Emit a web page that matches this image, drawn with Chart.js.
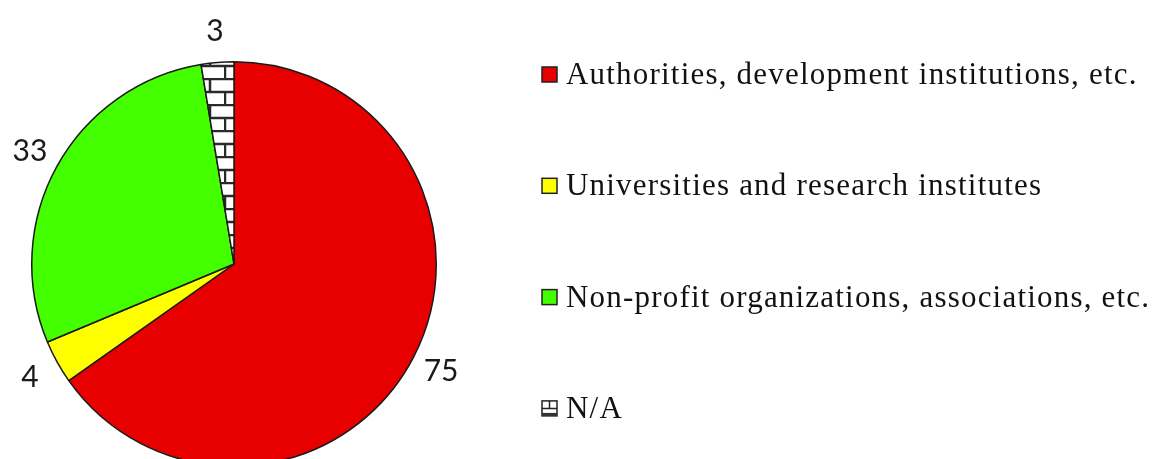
<!DOCTYPE html>
<html>
<head>
<meta charset="utf-8">
<script src="https://cdn.jsdelivr.net/npm/chart.js@4/dist/chart.umd.min.js"></script>
<style>
  html, body { margin: 0; padding: 0; background: #fff; overflow: hidden; }
  #wrap { position: relative; width: 1155px; height: 530px; }
</style>
</head>
<body>
<div id="wrap"><canvas id="pieChart"></canvas></div>
<script>
// chart data
const categories = [
  "Authorities, development institutions, etc.",
  "Universities and research institutes",
  "Non-profit organizations, associations, etc.",
  "N/A"
];
const counts = [75, 4, 33, 3];
const sliceColors = ["#E80000", "#FFFF00", "#44FF00", "brick"];

// brick pattern for the N/A slice
function makeBrickPattern(ctx) {
  const tile = document.createElement("canvas");
  tile.width = 28;
  tile.height = 26;
  const t = tile.getContext("2d");
  t.fillStyle = "#fff";
  t.fillRect(0, 0, 28, 26);
  t.strokeStyle = "#2a2a2a";
  t.lineWidth = 2.5;
  t.beginPath();
  t.moveTo(0, 1); t.lineTo(28, 1);
  t.moveTo(0, 14); t.lineTo(28, 14);
  t.moveTo(14, 1); t.lineTo(14, 14);
  t.moveTo(1, 14); t.lineTo(1, 26);
  t.stroke();
  return ctx.createPattern(tile, "repeat");
}

const canvas = document.getElementById("pieChart");
const ctx = canvas.getContext("2d");
const brick = makeBrickPattern(ctx);
const fills = sliceColors.map(c => c === "brick" ? brick : c);

// value labels outside each slice
const outsideLabels = {
  id: "outsideLabels",
  afterDatasetsDraw(chart) {
    const c = chart.ctx;
    const meta = chart.getDatasetMeta(0);
    c.save();
    c.font = "30px Lato";
    c.fillStyle = "#1a1a1a";
    c.textAlign = "center";
    c.textBaseline = "middle";
    meta.data.forEach((arc, i) => {
      const p = arc.getProps(["x", "y", "startAngle", "endAngle", "outerRadius"], true);
      const mid = (p.startAngle + p.endAngle) / 2;
      const r = p.outerRadius + 31;
      c.fillText(String(counts[i]), p.x + Math.cos(mid) * r, p.y + Math.sin(mid) * r);
    });
    c.restore();
  }
};

// legend on the right
const sideLegend = {
  id: "sideLegend",
  afterDraw(chart) {
    const c = chart.ctx;
    c.save();
    c.font = "31px 'Liberation Serif'";
    c.letterSpacing = "1.2px";
    c.textBaseline = "alphabetic";
    categories.forEach((name, i) => {
      const base = 84 + i * 111.3;
      const bx = 542, by = base - 17, bs = 15;
      c.fillStyle = sliceColors[i] === "brick" ? "#fff" : sliceColors[i];
      c.fillRect(bx, by, bs, bs);
      c.strokeStyle = "#222";
      c.lineWidth = 1.5;
      c.strokeRect(bx, by, bs, bs);
      if (sliceColors[i] === "brick") {
        c.beginPath();
        c.moveTo(bx, by + bs / 2); c.lineTo(bx + bs, by + bs / 2);
        c.moveTo(bx + bs / 2, by); c.lineTo(bx + bs / 2, by + bs / 2);
        c.stroke();
        c.fillStyle = "#333";
        c.fillRect(bx, by + bs - 3, bs, 3);
      }
      c.fillStyle = "#111";
      c.fillText(name, 566, base);
    });
    c.restore();
  }
};

new Chart(canvas, {
  type: "pie",
  data: {
    labels: categories,
    datasets: [{
      data: counts,
      backgroundColor: fills,
      borderColor: "#1a1a1a",
      borderWidth: 1.5
    }]
  },
  options: {
    responsive: true,
    maintainAspectRatio: false,
    animation: false,
    layout: { padding: { left: 31, top: 61, right: 718, bottom: 63 } },
    plugins: {
      legend: { display: false },
      tooltip: { enabled: false }
    }
  },
  plugins: [outsideLabels, sideLegend]
});
</script>
</body>
</html>
